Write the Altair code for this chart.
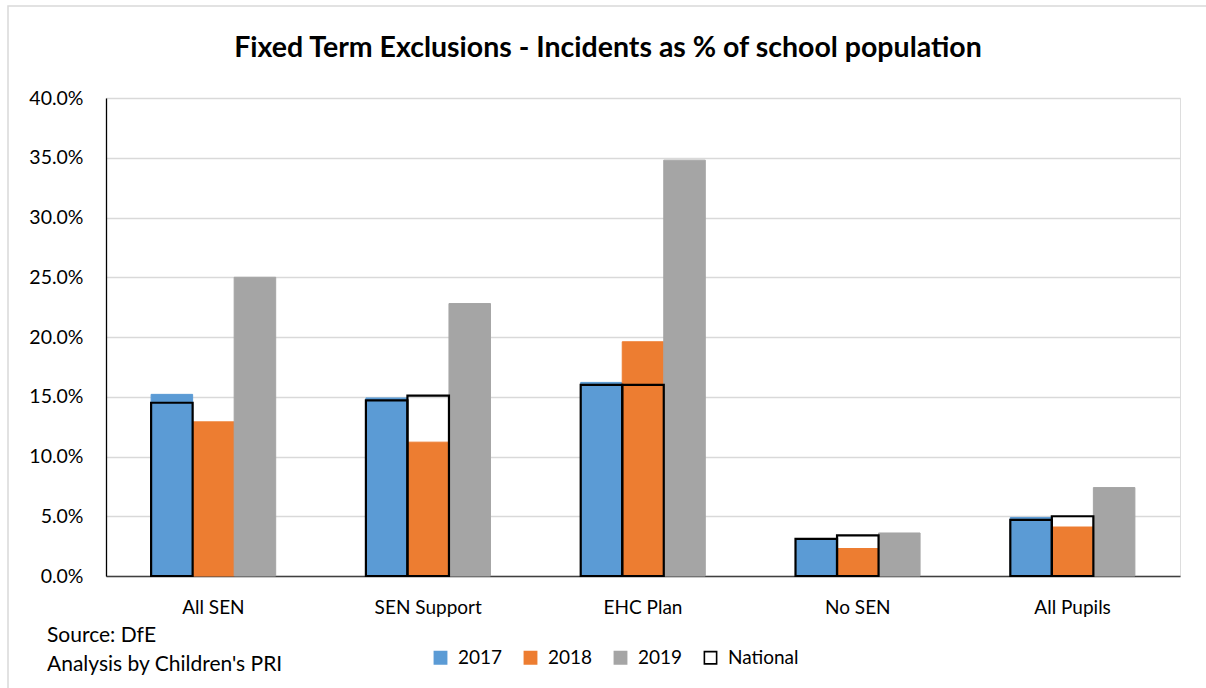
import altair as alt
import pandas as pd

# Fixed term exclusion incidents as a share of the school population (%)
categories = ["All SEN", "SEN Support", "EHC Plan", "No SEN", "All Pupils"]
rate_2017 = [15.2, 14.9, 16.2, 3.1, 4.9]
rate_2018 = [12.9, 11.2, 19.6, 2.3, 4.1]
rate_2019 = [25.0, 22.8, 34.8, 3.6, 7.4]
# National comparators, outlined over the 2017 and 2018 columns
national_first = [14.5, 14.7, 16.0, 3.1, 4.7]
national_second = [None, 15.1, 16.0, 3.4, 5.0]

series_names = ["2017", "2018", "2019", "National"]
fill_colors = ["#5B9BD5", "#ED7D31", "#A5A5A5", "#FFFFFF"]
stroke_colors = ["#5B9BD5", "#ED7D31", "#A5A5A5", "#000000"]
y_ticks = [0.0, 0.05, 0.10, 0.15, 0.20, 0.25, 0.30, 0.35, 0.40]
source_lines = ["Source: DfE", "Analysis by Children's PRI"]
chart_title = "Fixed Term Exclusions - Incidents as % of school population"

FONT = "Lato"

rows = []
for i, cat in enumerate(categories):
    for name, vals, slot in [("2017", rate_2017, "s1"), ("2018", rate_2018, "s2"), ("2019", rate_2019, "s3")]:
        rows.append({"category": cat, "series": name, "slot": slot, "value": vals[i] / 100, "layer": "year"})
    for vals, slot in [(national_first, "s1"), (national_second, "s2")]:
        if vals[i] is not None:
            rows.append({"category": cat, "series": "National", "slot": slot, "value": vals[i] / 100, "layer": "nat"})
df = pd.DataFrame(rows)

x_enc = alt.X(
    "category:N",
    sort=categories,
    scale=alt.Scale(paddingInner=0.42, paddingOuter=0.21),
    axis=alt.Axis(
        title=None, labelAngle=0, ticks=False, domainColor="#404040", domainWidth=1.3,
        labelFont=FONT, labelFontSize=19, labelColor="#000000", labelPadding=22,
    ),
)
offset_enc = alt.XOffset("slot:N", scale=alt.Scale(domain=["s1", "s2", "s3"], paddingInner=0, paddingOuter=0))
y_enc = alt.Y(
    "value:Q",
    scale=alt.Scale(domain=[0, 0.4], nice=False),
    axis=alt.Axis(
        title=None, format=".1%", values=y_ticks, ticks=False, domainColor="#000000", domainWidth=1.3,
        gridColor="#D9D9D9", gridWidth=1.3, labelFont=FONT, labelFontSize=19.5, labelColor="#000000",
        labelPadding=23,
    ),
)
legend = alt.Legend(
    title=None, orient="none", direction="horizontal", legendX=325, legendY=550,
    symbolType="square", symbolSize=150, symbolStrokeWidth=1.6, labelFont=FONT, labelFontSize=19,
    labelColor="#000000", columnPadding=18, labelOffset=8,
)
fill_enc = alt.Fill("series:N", scale=alt.Scale(domain=series_names, range=fill_colors), legend=legend)
stroke_enc = alt.Stroke("series:N", scale=alt.Scale(domain=series_names, range=stroke_colors), legend=legend)

year_bars = alt.Chart(df).transform_filter(alt.datum.layer == "year").mark_bar().encode(
    x=x_enc, xOffset=offset_enc, y=y_enc, fill=fill_enc, stroke=stroke_enc
)
national_bars = alt.Chart(df).transform_filter(alt.datum.layer == "nat").mark_bar(
    fillOpacity=0, strokeWidth=2.2
).encode(x=x_enc, xOffset=offset_enc, y=y_enc, fill=fill_enc, stroke=stroke_enc)

# Chart heading, centred over the whole canvas
heading = alt.Chart(pd.DataFrame({"t": [chart_title]})).mark_text(
    align="center", baseline="alphabetic", font=FONT, fontSize=28.5, fontWeight="bold", color="#000000"
).encode(x=alt.value(502), y=alt.value(-41), text="t:N")

source_note = alt.Chart(pd.DataFrame({"note": ["\n".join(source_lines)]})).mark_text(
    align="left", baseline="top", font=FONT, fontSize=21, lineBreak="\n", lineHeight=29, color="#000000"
).encode(x=alt.value(-59), y=alt.value(527), text="note:N")

frame = alt.Chart(pd.DataFrame({"k": [0]})).mark_rect(
    fill="transparent", stroke="#D9D9D9", strokeWidth=1.5
).encode(x=alt.value(-98), y=alt.value(-92), x2=alt.value(1200), y2=alt.value(700))

chart = alt.layer(frame, year_bars, national_bars, heading, source_note).properties(
    width=1074,
    height=478,
    padding={"left": 106, "top": 98, "right": 26, "bottom": 112},
    autosize=alt.AutoSizeParams(type="none"),
).configure_view(stroke=None).configure(background="white")

chart.save("out.html", embed_options={"renderer": "svg", "actions": False})
